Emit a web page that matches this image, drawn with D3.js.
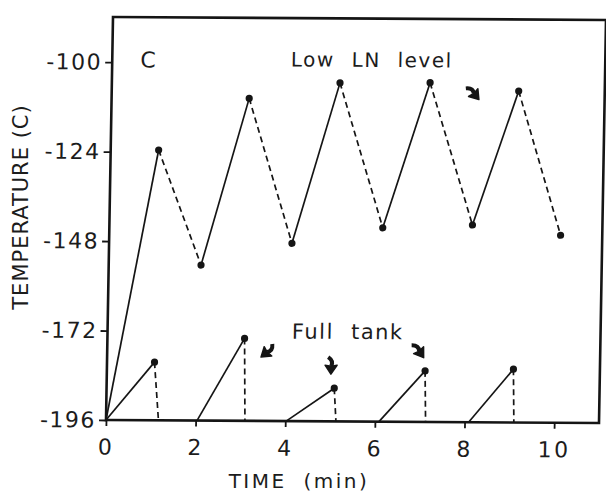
<!DOCTYPE html>
<html><head><meta charset="utf-8">
<script src="https://cdn.jsdelivr.net/npm/d3@7"></script>
<style>
body{margin:0;background:#fff;}
text{font-family:"DejaVu Sans",sans-serif;fill:#1c1c1c;}
</style></head>
<body><svg id="chart" width="606" height="493"></svg>
<script>
// "Low LN level" run: alternating peaks and troughs
var lowTime = [0, 1.07, 2.06, 3.07, 4.08, 5.09, 6.10, 7.10, 8.10, 9.08, 10.07];
var lowTemp = [-196, -123.5, -154.3, -109.5, -148.3, -105.2, -144.0, -105.0, -143.1, -107.1, -145.7];

// "Full tank" run: start of rise, peak, end of drop
var fullStart = [0, 2.03, 4.02, 6.09, 8.09];
var fullPeakTime = [1.06, 3.06, 5.08, 7.10, 9.07];
var fullPeakTemp = [-180.4, -173.9, -187.1, -182.3, -181.7];
var fullDropTime = [1.17, 3.10, 5.13, 7.13, 9.10];

var xTicks = [0, 2, 4, 6, 8, 10];
var yTicks = [-196, -172, -148, -124, -100];

// annotations
var labels = [
  {t: 0.80, v: -99.4, s: "C", size: 22, ls: 0, ws: 0},
  {t: 5.79, v: -99.0, s: "Low LN level", size: 20, ls: 1.5, ws: 9},
  {t: 5.36, v: -172.0, s: "Full tank", size: 21, ls: 1.5, ws: 9}
];
var arrows = [
  {t: 8.08, v: -107.8, a: 50},
  {t: 3.57, v: -177.5, a: 140},
  {t: 5.00, v: -181.2, a: 90},
  {t: 6.96, v: -177.0, a: 55}
];

var W = 493, H = 403;
var svg = d3.select('#chart');

var x = d3.scaleLinear().domain([0, 11]).range([0, W]);
var y = d3.scaleLinear().domain([-196, -87.9]).range([H, 0]);

// the scan is slightly skewed, so the plot frame is too
var g = svg.append('g')
  .attr('transform', 'matrix(1,0.006085,-0.01737,1,113,17)');

g.append('rect')
  .attr('x', 0).attr('y', 0).attr('width', W).attr('height', H)
  .attr('fill', 'none').attr('stroke', '#151515').attr('stroke-width', 2.6);

var plain = function(d){ return String(d); };
var ax = g.append('g').attr('transform', 'translate(0,' + H + ')')
  .call(d3.axisBottom(x).tickValues(xTicks).tickFormat(plain).tickSize(6).tickPadding(13));
var ay = g.append('g')
  .call(d3.axisLeft(y).tickValues(yTicks).tickFormat(plain).tickSize(7).tickPadding(3));
[ax, ay].forEach(function(a){
  a.select('.domain').remove();
  a.selectAll('line').attr('stroke', '#151515').attr('stroke-width', 1.8);
  a.selectAll('text').attr('font-family', '"DejaVu Sans",sans-serif')
    .attr('font-size', 22).attr('fill', '#1c1c1c').attr('letter-spacing', 1.5);
});
ax.selectAll('text').attr('letter-spacing', 2.5);

// line segments: rises solid, drops dashed
var segs = [];
for (var i = 0; i < lowTime.length - 1; i++) {
  segs.push({x1: lowTime[i], y1: lowTemp[i], x2: lowTime[i+1], y2: lowTemp[i+1], dash: i % 2 == 1});
}
fullStart.forEach(function(s, i){
  segs.push({x1: s, y1: -196, x2: fullPeakTime[i], y2: fullPeakTemp[i], dash: false});
  segs.push({x1: fullPeakTime[i], y1: fullPeakTemp[i], x2: fullDropTime[i], y2: -196, dash: true});
});

g.selectAll('line.seg').data(segs).enter().append('line')
  .attr('class', 'seg')
  .attr('x1', function(d){return x(d.x1);})
  .attr('y1', function(d){return y(d.y1);})
  .attr('x2', function(d){return x(d.x2);})
  .attr('y2', function(d){return y(d.y2);})
  .attr('stroke', '#151515')
  .attr('stroke-width', 1.7)
  .attr('stroke-dasharray', function(d){return d.dash ? '6,4' : null;});

var dots = [];
lowTime.forEach(function(t, i){ if (i > 0) dots.push([t, lowTemp[i]]); });
fullPeakTime.forEach(function(t, i){ dots.push([t, fullPeakTemp[i]]); });

g.selectAll('circle').data(dots).enter().append('circle')
  .attr('cx', function(d){return x(d[0]);})
  .attr('cy', function(d){return y(d[1]);})
  .attr('r', 3.6)
  .attr('fill', '#151515');

g.selectAll('text.lab').data(labels).enter().append('text')
  .attr('class', 'lab')
  .attr('x', function(d){return x(d.t);})
  .attr('y', function(d){return y(d.v);})
  .attr('text-anchor', 'middle')
  .attr('dominant-baseline', 'central')
  .attr('font-size', function(d){return d.size;})
  .attr('letter-spacing', function(d){return d.ls;})
  .attr('word-spacing', function(d){return d.ws;})
  .text(function(d){return d.s;});

var arr = g.selectAll('g.arrow').data(arrows).enter().append('g')
  .attr('class', 'arrow')
  .attr('transform', function(d){return 'translate(' + x(d.t) + ',' + y(d.v) + ') rotate(' + d.a + ')';});
arr.append('path')
  .attr('d', 'M-9,3 Q-5,-3 0,0')
  .attr('fill', 'none').attr('stroke', '#151515').attr('stroke-width', 4);
arr.append('path')
  .attr('d', 'M8,0 L-1,-6 L0,0 L-1,6 Z')
  .attr('fill', '#151515').attr('stroke', '#151515').attr('stroke-width', 1.5)
  .attr('stroke-linejoin', 'round');

// axis titles
svg.append('text')
  .attr('x', 299).attr('y', 481)
  .attr('text-anchor', 'middle').attr('dominant-baseline', 'central')
  .attr('font-size', 20).attr('letter-spacing', 2.5).attr('word-spacing', 8)
  .text('TIME (min)');
svg.append('text')
  .attr('transform', 'translate(21,207) rotate(-90)')
  .attr('text-anchor', 'middle').attr('dominant-baseline', 'central')
  .attr('font-size', 21).attr('letter-spacing', 1)
  .text('TEMPERATURE (C)');
</script>
</body></html>
